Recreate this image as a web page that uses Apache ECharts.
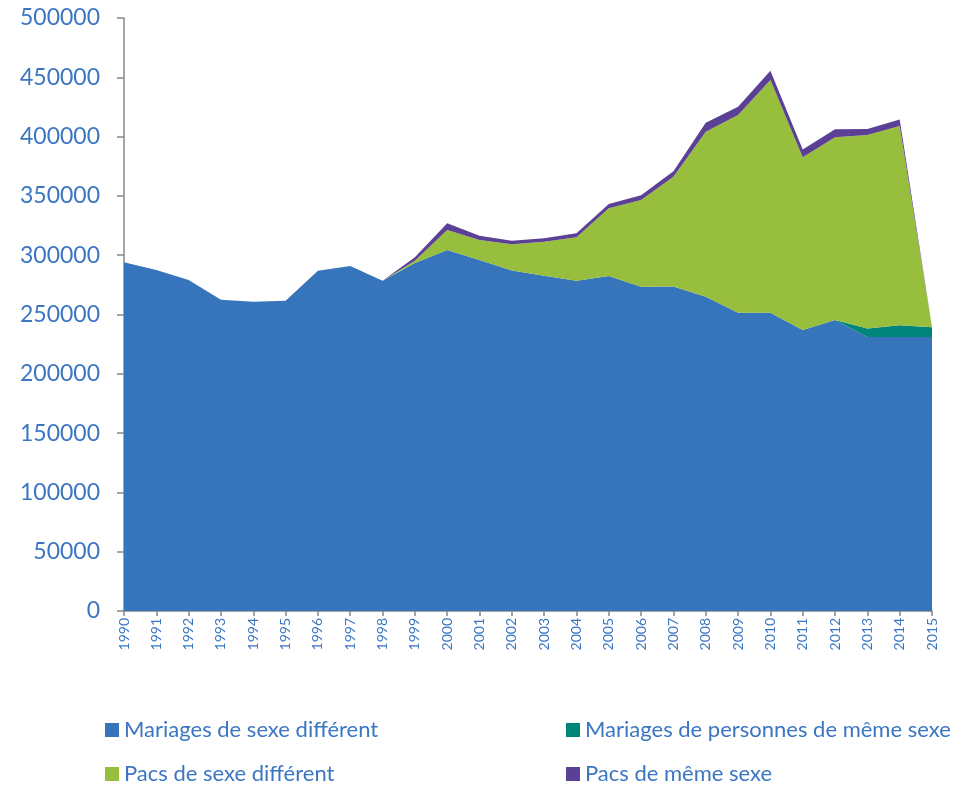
<!DOCTYPE html>
<html>
<head>
<meta charset="utf-8">
<script src="https://cdn.jsdelivr.net/npm/echarts@6/dist/echarts.min.js"></script>
<style>
  html, body { margin: 0; padding: 0; background: #fff; }
  #chart { width: 969px; height: 785px; }
</style>
</head>
<body>
<div id="chart"></div>
<script>
// années
const years = ['1990', '1991', '1992', '1993', '1994', '1995', '1996', '1997', '1998', '1999',
  '2000', '2001', '2002', '2003', '2004', '2005', '2006', '2007', '2008', '2009',
  '2010', '2011', '2012', '2013', '2014', '2015']

const mariagesDiff = [294000, 287500, 279100, 262500, 260800, 261600, 286900, 290900, 278500, 293400,
  304400, 296000, 287000, 282700, 278500, 282500, 273400, 273600, 265000, 251500,
  251500, 236900, 245400, 231000, 231000, 231000]
const mariagesMeme = [0, 0, 0, 0, 0, 0, 0, 0, 0, 0,
  0, 0, 0, 0, 0, 0, 0, 0, 0, 0,
  0, 0, 0, 7300, 9900, 8200]
const pacsDiff = [0, 0, 0, 0, 0, 0, 0, 0, 0, 2000,
  16900, 16900, 22300, 28700, 36600, 57100, 73100, 92600, 139100, 166700,
  196200, 145600, 154000, 163000, 168000, 0]
const pacsMeme = [0, 0, 0, 0, 0, 0, 0, 0, 0, 2800,
  5600, 3400, 2800, 2900, 3400, 3600, 4000, 4600, 7600, 7000,
  7800, 6700, 6700, 5100, 5600, 0]

const yTicks = { min: 0, max: 500000, interval: 50000 }

const textBlue = '#3b76c2'
const axisGray = '#888888'

const chart = echarts.init(document.getElementById('chart'))

const areaSeries = (name, data, color) => ({
  name: name,
  type: 'line',
  stack: 'total',
  data: data,
  showSymbol: false,
  symbol: 'none',
  lineStyle: { width: 0 },
  areaStyle: { color: color, opacity: 1 },
  itemStyle: { color: color }
})

// une légende par entrée, placée à la main
const legendItem = (name, left, top) => ({
  left: left,
  top: top,
  itemWidth: 14,
  itemHeight: 14,
  itemGap: 0,
  icon: 'rect',
  textStyle: { color: textBlue, fontSize: 22, fontFamily: 'Lato' },
  data: [name]
})

const option = {
  animation: false,
  grid: { left: 124, right: 37, top: 18, bottom: 174 },
  legend: [
    legendItem('Mariages de sexe différent', 100, 714),
    legendItem('Mariages de personnes de même sexe', 561, 714),
    legendItem('Pacs de sexe différent', 100, 758),
    legendItem('Pacs de même sexe', 561, 758)
  ],
  xAxis: {
    type: 'category',
    boundaryGap: false,
    data: years,
    axisLine: { lineStyle: { color: axisGray, width: 1.5 } },
    axisTick: { show: true, length: 5, interval: 0, lineStyle: { color: axisGray, width: 1.5 } },
    axisLabel: {
      rotate: 90,
      interval: 0,
      margin: 7,
      color: textBlue,
      fontSize: 14,
      fontFamily: 'Lato'
    }
  },
  yAxis: {
    type: 'value',
    min: yTicks.min,
    max: yTicks.max,
    interval: yTicks.interval,
    axisLine: { show: true, lineStyle: { color: axisGray, width: 1.5 } },
    axisTick: { show: true, length: 7, lineStyle: { color: axisGray, width: 1.5 } },
    splitLine: { show: false },
    axisLabel: {
      color: textBlue,
      fontSize: 23,
      fontFamily: 'Lato',
      margin: 24,
      formatter: (v) => String(v)
    }
  },
  series: [
    areaSeries('Mariages de sexe différent', mariagesDiff, '#3674bb'),
    areaSeries('Mariages de personnes de même sexe', mariagesMeme, '#00857a'),
    areaSeries('Pacs de sexe différent', pacsDiff, '#97be3d'),
    areaSeries('Pacs de même sexe', pacsMeme, '#5b4095')
  ]
}

chart.setOption(option)
</script>
</body>
</html>
